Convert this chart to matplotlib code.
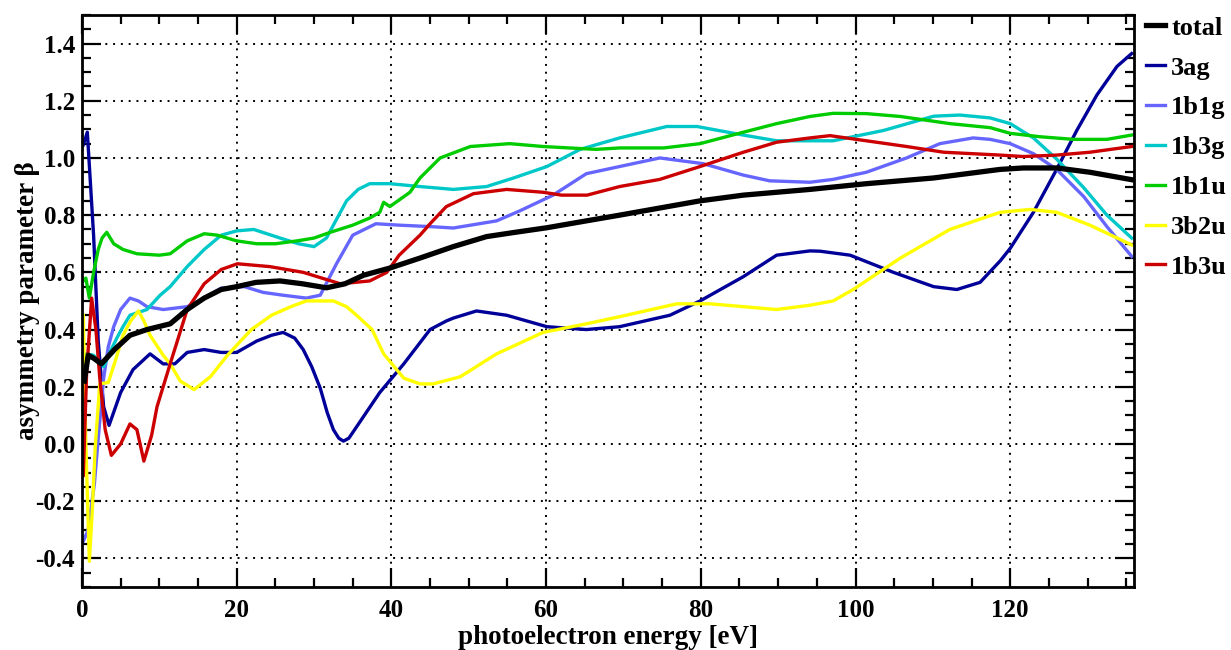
import numpy as np
import matplotlib
matplotlib.use('Agg')
from matplotlib import pyplot as plt
from matplotlib.ticker import MultipleLocator, FormatStrFormatter

plt.rcParams['font.family'] = ['Liberation Serif', 'DejaVu Serif']
plt.rcParams['font.weight'] = 'bold'
plt.rcParams['axes.unicode_minus'] = False

# values (photoelectron energy in eV, beta)
e_total = [0.3, 0.8, 1.5, 2.5, 4.2, 6.2, 8.4, 11.4, 13.6, 15.8, 18, 20, 22.5, 25.6, 28.5, 31.6, 34, 36.4,
           39.8, 43.7, 48, 52.3, 56, 60.1, 65.2, 69.5, 74.7, 79.9, 85.5, 94.1, 101.4, 110.1, 118.7, 121.7,
           126, 130.3, 135.7]
b_total = [0.22, 0.31, 0.30, 0.28, 0.33, 0.38, 0.40, 0.42, 0.47, 0.51, 0.54, 0.55, 0.565, 0.57, 0.56, 0.546,
           0.56, 0.59, 0.615, 0.65, 0.69, 0.725, 0.74, 0.756, 0.78, 0.80, 0.825, 0.85, 0.87, 0.89, 0.91, 0.93,
           0.96, 0.965, 0.965, 0.95, 0.924]

e_3ag = [0.17, 0.69, 1.5, 2.1, 2.8, 3.5, 5.0, 6.6, 8.8, 10.5, 12, 13.6, 15.8, 18, 20, 22.6, 24.5, 26, 27.5,
         28.6, 29.7, 30.8, 31.7, 32.5, 33.2, 33.8, 34.5, 35.5, 38.5, 41.6, 45, 47.1, 48, 51, 54.9, 60.1, 65.2,
         69.5, 76, 79.9, 85.5, 89.8, 94.1, 95.4, 99.3, 104.9, 110.1, 113.1, 116.1, 118.7, 120, 123, 126, 128.6,
         131.2, 133.8, 135.7]
b_3ag = [1.046, 1.09, 0.73, 0.36, 0.13, 0.065, 0.18, 0.26, 0.315, 0.28, 0.28, 0.32, 0.33, 0.32, 0.32, 0.36,
         0.38, 0.39, 0.37, 0.33, 0.27, 0.195, 0.11, 0.05, 0.02, 0.01, 0.02, 0.06, 0.18, 0.28, 0.40, 0.43, 0.44,
         0.465, 0.45, 0.41, 0.40, 0.41, 0.45, 0.50, 0.585, 0.66, 0.675, 0.674, 0.66, 0.60, 0.55, 0.54, 0.565,
         0.64, 0.684, 0.81, 0.96, 1.096, 1.22, 1.32, 1.365]

e_1b1g = [0.17, 0.8, 1.6, 2.2, 2.8, 3.4, 4.1, 5.0, 6.2, 7.3, 8.4, 10.5, 13.6, 15.8, 18, 21, 23.4, 26, 29,
          30.8, 32.9, 35, 38, 41, 45, 48, 53.6, 56.6, 60.9, 65.2, 69.5, 74.7, 80.3, 85.5, 88.9, 94.1, 97.1,
          101.4, 106.6, 110.9, 115.2, 117.4, 120, 123, 126, 129.5, 132.5, 135.7]
b_1b1g = [-0.34, -0.30, -0.14, 0.05, 0.23, 0.34, 0.41, 0.47, 0.51, 0.50, 0.48, 0.47, 0.48, 0.51, 0.545, 0.55,
          0.53, 0.52, 0.51, 0.52, 0.63, 0.73, 0.77, 0.765, 0.76, 0.755, 0.78, 0.815, 0.87, 0.945, 0.97, 1.0,
          0.98, 0.94, 0.92, 0.915, 0.925, 0.95, 1.0, 1.05, 1.07, 1.065, 1.05, 1.015, 0.96, 0.865, 0.76, 0.656]

e_1b3g = [0.6, 1.5, 2.2, 2.8, 3.6, 4.5, 5.3, 6.2, 7.3, 8.4, 10.1, 11.4, 13.6, 15.8, 18, 20, 22.2, 25.6, 28,
          30, 31.6, 33, 34.2, 35.7, 37.2, 39.8, 43.7, 48, 52.3, 55.8, 60.1, 64.4, 69.5, 75.6, 79.5, 85.5,
          89.8, 94.1, 97.1, 103.6, 110.1, 113.5, 117.4, 120, 123, 126, 129.5, 132.5, 135.7]
b_1b3g = [0.315, 0.31, 0.29, 0.27, 0.32, 0.37, 0.41, 0.45, 0.46, 0.47, 0.52, 0.55, 0.62, 0.68, 0.73, 0.745,
          0.75, 0.72, 0.70, 0.69, 0.72, 0.79, 0.85, 0.89, 0.91, 0.91, 0.90, 0.89, 0.90, 0.93, 0.97, 1.03,
          1.07, 1.11, 1.11, 1.08, 1.06, 1.06, 1.06, 1.096, 1.146, 1.15, 1.14, 1.12, 1.07, 0.996, 0.896,
          0.80, 0.72]

e_1b1u = [0.17, 0.5, 0.95, 1.5, 2.1, 2.6, 3.2, 4.1, 5.3, 7.1, 10, 11.4, 13.6, 15.8, 17.5, 20, 22.6, 25,
          27.8, 30, 32.1, 35, 37.2, 38.5, 39.0, 39.8, 42.4, 43.7, 46.3, 50.2, 55.3, 59.6, 63, 66.5, 69.5,
          75.2, 79.9, 85.5, 89.8, 94.1, 97.1, 101.4, 105.8, 112.2, 117.4, 120, 123.9, 128.2, 132.5, 135.7]
b_1b1u = [0.57, 0.58, 0.51, 0.60, 0.68, 0.72, 0.74, 0.70, 0.68, 0.665, 0.66, 0.665, 0.71, 0.735, 0.73, 0.71,
          0.70, 0.70, 0.71, 0.72, 0.74, 0.765, 0.79, 0.81, 0.845, 0.83, 0.88, 0.93, 1.0, 1.04, 1.05, 1.04,
          1.035, 1.03, 1.035, 1.035, 1.05, 1.09, 1.12, 1.145, 1.156, 1.155, 1.145, 1.12, 1.106, 1.086,
          1.074, 1.065, 1.065, 1.08]

e_3b2u = [0.17, 0.5, 0.95, 1.3, 1.7, 2.3, 3.4, 4.3, 5.3, 6.3, 7.3, 8.0, 8.8, 10.5, 11.4, 12.7, 14.5, 16.6,
          18.8, 21.9, 24.5, 27, 29, 32.5, 34.2, 35.5, 37.5, 39, 41.6, 43.7, 45.4, 48.9, 53.6, 59.6, 65.2,
          69.5, 76.9, 81.2, 89.8, 94.1, 97.1, 99.7, 105.8, 112.2, 118.7, 122.6, 126, 130.3, 135.7]
b_3b2u = [0.45, 0.0, -0.41, -0.25, -0.016, 0.21, 0.215, 0.29, 0.38, 0.43, 0.465, 0.43, 0.38, 0.31, 0.28,
          0.22, 0.19, 0.235, 0.31, 0.40, 0.45, 0.48, 0.50, 0.50, 0.48, 0.45, 0.40, 0.315, 0.23, 0.21, 0.21,
          0.235, 0.315, 0.39, 0.42, 0.445, 0.49, 0.49, 0.47, 0.485, 0.50, 0.54, 0.65, 0.75, 0.81, 0.82, 0.81,
          0.765, 0.696]

e_1b3u = [0.17, 0.6, 1.25, 1.8, 2.3, 3.0, 3.8, 5.0, 6.2, 7.1, 8.0, 9.0, 9.7, 11.4, 13.6, 15.8, 18, 20.1,
          24.3, 28.6, 33.4, 37.2, 39.4, 41, 43.7, 45, 47.1, 50.6, 54.9, 59.6, 62, 65.3, 69.5, 74.7, 79.9,
          85.5, 89.8, 94.1, 96.7, 101.4, 106.6, 111.4, 118.7, 121.7, 126, 130.3, 135.7]
b_1b3u = [-0.11, 0.25, 0.51, 0.40, 0.23, 0.05, -0.04, 0.0, 0.07, 0.05, -0.06, 0.03, 0.13, 0.28, 0.47, 0.56,
          0.61, 0.63, 0.62, 0.60, 0.56, 0.57, 0.60, 0.66, 0.73, 0.77, 0.83, 0.875, 0.89, 0.88, 0.87, 0.87,
          0.90, 0.925, 0.97, 1.02, 1.055, 1.07, 1.078, 1.06, 1.04, 1.02, 1.01, 1.005, 1.01, 1.02, 1.04]

series = [
    ('3ag', e_3ag, b_3ag, '#000099'),
    ('1b1g', e_1b1g, b_1b1g, '#6666ff'),
    ('1b3g', e_1b3g, b_1b3g, '#00c8c8'),
    ('1b1u', e_1b1u, b_1b1u, '#00cc00'),
    ('3b2u', e_3b2u, b_3b2u, '#ffff00'),
    ('1b3u', e_1b3u, b_1b3u, '#cc0000'),
]

fig = plt.figure(figsize=(12.31, 6.5), dpi=100)
ax = fig.add_axes([0.0666, 0.097, 0.8546, 0.880])

lines = [ax.plot(e_total, b_total, color='black', lw=3.8, label='total', zorder=5)[0]]
for name, e, b, col in series:
    lines.append(ax.plot(e, b, color=col, lw=2.4, label=name)[0])

ax.set_xlim(0, 136)
ax.set_ylim(-0.5, 1.5)
ax.xaxis.set_major_locator(MultipleLocator(20))
ax.xaxis.set_minor_locator(MultipleLocator(5))
ax.yaxis.set_major_locator(MultipleLocator(0.2))
ax.yaxis.set_minor_locator(MultipleLocator(0.05))
ax.yaxis.set_major_formatter(FormatStrFormatter('%.1f'))

ax.tick_params(which='both', direction='in', top=True, right=True, width=1.6, labelsize=18)
ax.tick_params(axis='x', pad=9)
ax.tick_params(axis='y', pad=5)
ax.tick_params(which='major', length=14)
ax.tick_params(which='minor', length=6.5)
for s in ax.spines.values():
    s.set_linewidth(2.0)

ax.grid(True, which='major', color='black', linestyle=(0, (1, 3)), linewidth=1.4)

ax.set_xlabel('photoelectron energy [eV]', fontsize=19.5, fontweight='bold', labelpad=2)
ax.set_ylabel('asymmetry parameter β', fontsize=19.5, fontweight='bold', labelpad=-3)

ax.legend(lines, [l.get_label() for l in lines], loc='upper left',
          bbox_to_anchor=(0.931, 0.975), bbox_transform=fig.transFigure,
          frameon=False, borderpad=0, borderaxespad=0, handlelength=0.7, handletextpad=0.25,
          labelspacing=0.62, prop={'size': 19, 'weight': 'bold'})

fig.savefig('out.png', dpi=100)
